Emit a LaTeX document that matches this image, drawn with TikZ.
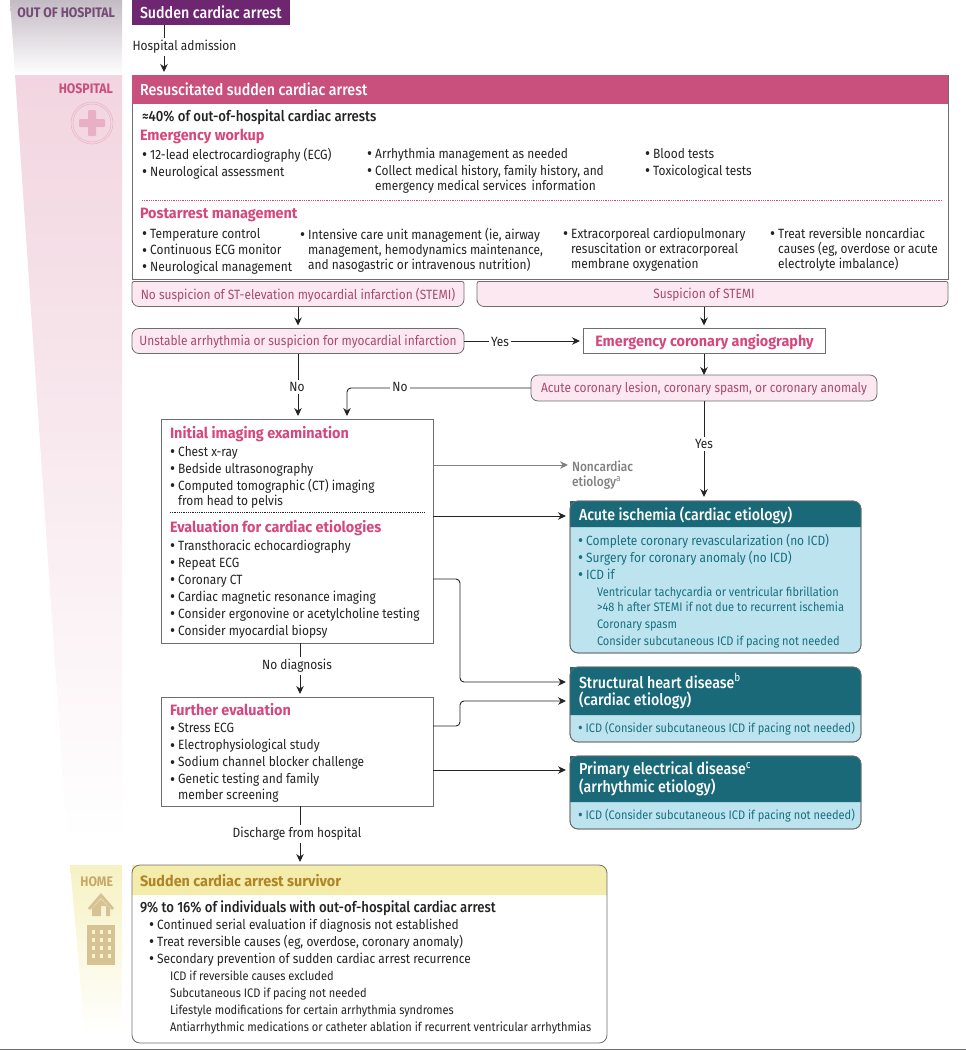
\documentclass[tikz,border=0pt]{standalone}
\usepackage{fontspec}
\setmainfont{Fira Sans}[FakeStretch=0.89]
\newfontfamily\ttlfont{Fira Sans}[FakeStretch=0.96]
\newfontfamily\medfont{Fira Sans Medium}[FakeStretch=0.89]
\usetikzlibrary{calc,arrows.meta}
\definecolor{hdpurple}{RGB}{110, 38, 113}
\definecolor{hdpink}{RGB}{201, 79, 124}
\definecolor{txtpink}{RGB}{214, 72, 125}
\definecolor{softpink}{RGB}{252, 232, 240}
\definecolor{txtrose}{RGB}{168, 74, 112}
\definecolor{hdteal}{RGB}{26, 105, 120}
\definecolor{softteal}{RGB}{188, 227, 238}
\definecolor{txtteal}{RGB}{24, 112, 128}
\definecolor{hdyellow}{RGB}{243, 236, 170}
\definecolor{txtgold}{RGB}{176, 132, 40}
\definecolor{linegray}{RGB}{110, 110, 110}
\definecolor{inkdark}{RGB}{35, 35, 35}
\newcommand{\bl}{\smash{\raisebox{-1.3pt}{\scalebox{1.3}{\textbullet}}}\ }
\newcommand{\ind}{\hphantom{\bl}}
\begin{document}
\begin{tikzpicture}[x=1pt, y=-1pt,
    every node/.style={inner sep=0pt, outer sep=0pt, text=inkdark},
    txt/.style={anchor=north west, align=left, font=\fontsize{13.4}{15.2}\selectfont},
    sub/.style={txt, font=\fontsize{12.4}{15}\selectfont},
    stat/.style={txt, font=\medfont\fontsize{14.8}{16}\selectfont},
    lbl/.style={fill=white, inner sep=2pt, font=\fontsize{13.4}{15.2}\selectfont},
    ttl/.style={anchor=west, font=\ttlfont\fontsize{15}{17}\selectfont\bfseries, text=txtpink},
    whitettl/.style={anchor=west, align=left, font=\medfont\fontsize{16}{17}\selectfont, text=white},
    zone/.style={anchor=east, font=\fontsize{13.8}{14}\selectfont\bfseries},
    blk/.style={draw=linegray, fill=white, anchor=north west, line width=0.9pt},
    pill/.style={draw=linegray, fill=softpink, rounded corners=7pt, align=center, line width=0.8pt,
                 text=txtrose, text height=11pt, text depth=3pt, font=\fontsize{13.4}{15.2}\selectfont},
    frame/.style={draw=linegray, rounded corners=8pt, line width=0.8pt},
    teal/.style={draw=linegray, fill=softteal, rounded corners=8pt, anchor=north west, line width=0.8pt},
    arr/.style={-{Stealth[length=8pt,width=7.5pt]}, line width=0.9pt, color=inkdark},
    elb/.style={arr, rounded corners=4pt}]

    \useasboundingbox (0,0) rectangle (966,1050);

    % side bands
    \shade[top color=hdpurple!25!gray!45, bottom color=white] (10,0) -- (122,0) -- (122,75) -- (15,75) -- cycle;
    \shade[top color=hdpink!24, bottom color=white] (15,75) -- (122,75) -- (122,840) -- (67,840) -- cycle;
    \shade[top color=hdyellow!70, bottom color=white] (70,865) -- (122,865) -- (122,1035) -- (85,1035) -- cycle;

    \node[zone, text=hdpurple!60!gray] (zout)  at (115,13)  {OUT OF HOSPITAL};
    \node[zone, text=hdpink]            (zhosp) at (113,89)  {HOSPITAL};
    \node[zone, text=txtgold!70!white]  (zhome) at (113,882) {HOME};

    % hospital cross
    \draw[hdpink!45, line width=0.5pt] (92,123) circle (21);
    \draw[hdpink!45, line width=0.5pt] (92,123) circle (19);
    \fill[hdpink!45, rounded corners=1pt] (88,110) rectangle (96,136);
    \fill[hdpink!45, rounded corners=1pt] (79,119) rectangle (105,127);

    % home icons
    \fill[txtgold!50!white] (88,908) -- (101,893) -- (114,908) -- (112,910) -- (101,898) -- (90,910) -- cycle;
    \fill[txtgold!50!white] (92,908) -- (101,899) -- (110,908) -- (110,916) -- (106,916) -- (106,906) -- (101,906) -- (101,916) -- (92,916) -- cycle;
    \fill[txtgold!50!white] (87,925) rectangle (115,965);
    \foreach \i in {930,938,946,954} {
        \foreach \j in {92,100,108} {
            \fill[hdyellow!60] (\j,\i) rectangle +(3,4);
        }
    }

    % out of hospital
    \node[draw=none, fill=hdpurple, anchor=north west, minimum width=158pt, minimum height=25pt] (scarrest) at (132,0) {};
    \node[whitettl] (scarresttxt) at (140,12) {Sudden cardiac arrest};

    % resuscitated
    \node[blk, minimum width=816pt, minimum height=204pt] (rsca) at (132,75) {};
    \node[draw=none, fill=hdpink, anchor=north west, minimum width=816pt, minimum height=29pt] (rscahd) at (132,75) {};
    \node[whitettl] (rscatxt) at (140,89) {Resuscitated sudden cardiac arrest};
    \node[stat] (rscastat) at (142,110) {≈40\% of out-of-hospital cardiac arrests};
    \node[ttl] (ework) at (140,136) {Emergency workup};
    \node[txt] (ew1) at (142,148) {\bl 12-lead electrocardiography (ECG)\\[1.8pt]\bl Neurological assessment};
    \node[txt] (ew2) at (367,148) {\bl Arrhythmia management as needed\\[1.8pt]\bl Collect medical history, family history, and\\\ind emergency medical services\, information};
    \node[txt] (ew3) at (645,148) {\bl Blood tests\\[1.8pt]\bl Toxicological tests};
    \draw[txtpink, densely dotted, line width=0.8pt] ([xshift=10pt,yshift=-125pt]rsca.north west) -- ([xshift=-6pt,yshift=-125pt]rsca.north east);
    \node[ttl] (pmgmt) at (140,215) {Postarrest management};
    \node[txt] (pm1) at (142,228) {\bl Temperature control\\[1.6pt]\bl Continuous ECG monitor\\[1.6pt]\bl Neurological management};
    \node[txt] (pm2) at (300,228) {\bl Intensive care unit management (ie, airway\\\ind management, hemodynamics maintenance,\\\ind and nasogastric or intravenous nutrition)};
    \node[txt] (pm3) at (563,228) {\bl Extracorporeal cardiopulmonary\\\ind resuscitation or extracorporeal\\\ind membrane oxygenation};
    \node[txt] (pm4) at (770,228) {\bl Treat reversible noncardiac\\\ind causes (eg, overdose or acute\\\ind electrolyte imbalance)};

    % triage boxes
    \node[minimum width=332pt, minimum height=25pt] (nostemi) at (298,294) {};
    \filldraw[draw=linegray, fill=softpink, line width=0.8pt, rounded corners=2pt] (nostemi.west) -- (nostemi.north west) -- (nostemi.north east) [rounded corners=7pt] -- (nostemi.south east) -- (nostemi.south west) -- cycle;
    \node[txt, anchor=center, text=txtrose] (nostemitxt) at (298,295) {No suspicion of ST-elevation myocardial infarction (STEMI)};
    \node[minimum width=471pt, minimum height=25pt] (stemi) at (712.5,294) {};
    \filldraw[draw=linegray, fill=softpink, line width=0.8pt, rounded corners=2pt] (stemi.west) -- (stemi.north west) -- (stemi.north east) [rounded corners=7pt] -- (stemi.south east) -- (stemi.south west) -- cycle;
    \node[txt, anchor=center, text=txtrose] (stemitxt) at (704,295) {Suspicion of STEMI};
    \node[pill, minimum width=332pt, minimum height=25pt] (unstable) at (298,341) {Unstable arrhythmia or suspicion for myocardial infarction};
    \node[blk, anchor=center, minimum width=242pt, minimum height=25pt] (angio) at (704,341) {};
    \node[ttl, anchor=center] (angiotxt) at (704.5,342) {Emergency coronary angiography};
    \node[pill, minimum width=346pt, minimum height=26pt] (lesion) at (704,388) {Acute coronary lesion, coronary spasm, or coronary anomaly};

    % imaging
    \node[blk, minimum width=272pt, minimum height=224pt] (imaging) at (161,419) {};
    \node[ttl] (imgttl) at (170,434) {Initial imaging examination};
    \node[txt] (imgtxt) at (170,446) {\bl Chest x-ray\\[1.8pt]\bl Bedside ultrasonography\\[1.8pt]\bl Computed tomographic (CT) imaging\\\ind from head to pelvis};
    \draw[inkdark, densely dotted, line width=0.8pt] ([xshift=9pt,yshift=-93pt]imaging.north west) -- ([xshift=-9pt,yshift=-93pt]imaging.north east);
    \node[ttl] (evalttl) at (170,528) {Evaluation for cardiac etiologies};
    \node[txt] (evaltxt) at (170,540) {\bl Transthoracic echocardiography\\[1.8pt]\bl Repeat ECG\\[1.8pt]\bl Coronary CT\\[1.8pt]\bl Cardiac magnetic resonance imaging\\[1.8pt]\bl Consider ergonovine or acetylcholine testing\\[1.8pt]\bl Consider myocardial biopsy};
    \node[blk, minimum width=272pt, minimum height=109pt] (further) at (161,697) {};
    \node[ttl] (furttl) at (170,710) {Further evaluation};
    \node[txt] (furtxt) at (170,723.5) {\bl Stress ECG\\[1.8pt]\bl Electrophysiological study\\[1.8pt]\bl Sodium channel blocker challenge\\[1.8pt]\bl Genetic testing and family\\\ind member screening};

    \node[txt, text=gray, font=\medfont\fontsize{13.4}{15.2}\selectfont] (noncard) at (572,461) {Noncardiac\\etiology$^{\mathrm{a}}$};

    % acute ischemia
    \node[teal, minimum width=291pt, minimum height=152pt] (isch) at (570,501) {};
    \fill[hdteal, rounded corners=8pt] (isch.north west) -- (isch.north east) [sharp corners] -- ([yshift=-26pt]isch.north east) -- ([yshift=-26pt]isch.north west) -- cycle;
    \draw[frame] (isch.north west) rectangle (isch.south east);
    \node[whitettl] (ischttl) at (579,515) {Acute ischemia (cardiac etiology)};
    \node[txt, text=txtteal] (ischtxt) at (578,534) {\bl Complete coronary revascularization (no ICD)\\[1.8pt]\bl Surgery for coronary anomaly (no ICD)\\[1.8pt]\bl ICD if};
    \node[sub, text=txtteal] (ischsub) at (597,587) {Ventricular tachycardia or ventricular fibrillation\\>48 h after STEMI if not due to recurrent ischemia\\[2pt]Coronary spasm\\[2pt]Consider subcutaneous ICD if pacing not needed};

    % structural
    \node[teal, minimum width=291pt, minimum height=75pt] (struct) at (570,667) {};
    \fill[hdteal, rounded corners=8pt] (struct.north west) -- (struct.north east) [sharp corners] -- ([yshift=-48pt]struct.north east) -- ([yshift=-48pt]struct.north west) -- cycle;
    \draw[frame] (struct.north west) rectangle (struct.south east);
    \node[whitettl] (structttl) at (579,691) {Structural heart disease$^{\mathrm{b}}$\\(cardiac etiology)};
    \node[sub, text=txtteal] (structtxt) at (578,722) {\bl ICD (Consider subcutaneous ICD if pacing not needed)};

    % primary electrical
    \node[teal, minimum width=291pt, minimum height=73pt] (prim) at (570,756) {};
    \fill[hdteal, rounded corners=8pt] (prim.north west) -- (prim.north east) [sharp corners] -- ([yshift=-46pt]prim.north east) -- ([yshift=-46pt]prim.north west) -- cycle;
    \draw[frame] (prim.north west) rectangle (prim.south east);
    \node[whitettl] (primttl) at (579,779) {Primary electrical disease$^{\mathrm{c}}$\\(arrhythmic etiology)};
    \node[sub, text=txtteal] (primtxt) at (578,809) {\bl ICD (Consider subcutaneous ICD if pacing not needed)};

    % survivor
    \node[minimum width=475pt, minimum height=178pt, anchor=north west] (surv) at (132,865) {};
    \fill[hdyellow, rounded corners=8pt] (surv.north west) -- (surv.north east) [sharp corners] -- ([yshift=-30pt]surv.north east) -- ([yshift=-30pt]surv.north west) -- cycle;
    \draw[frame] (surv.north west) rectangle (surv.south east);
    \node[ttl, text=txtgold] (survttl) at (140,881) {Sudden cardiac arrest survivor};
    \node[stat] (survstat) at (140,901) {9\% to 16\% of individuals with out-of-hospital cardiac arrest};
    \node[txt] (survtxt) at (149,919) {\bl Continued serial evaluation if diagnosis not established\\[1.8pt]\bl Treat reversible causes (eg, overdose, coronary anomaly)\\[1.8pt]\bl Secondary prevention of sudden cardiac arrest recurrence};
    \node[sub] (survsub) at (170,971) {ICD if reversible causes excluded\\[1.8pt]Subcutaneous ICD if pacing not needed\\[1.8pt]Lifestyle modifications for certain arrhythmia syndromes\\[1.8pt]Antiarrhythmic medications or catheter ablation if recurrent ventricular arrhythmias};

    % connectors
    \draw[arr] ([xshift=32pt]scarrest.south west) -- ([xshift=32pt,yshift=3pt]rsca.north west);
    \node[lbl] (lbladm) at (184.5,47) {Hospital admission};
    \draw[arr] (nostemi.south) -- ([yshift=3pt]unstable.north);
    \draw[arr] ([xshift=-8.5pt]stemi.south) -- ([yshift=3pt]angio.north);
    \draw[arr] (unstable.east) -- ([xshift=-3pt]angio.west);
    \node[lbl] (lblyes1) at (500,342) {Yes};
    \draw[arr] (angio.south) -- (lesion.north);
    \draw[arr] (unstable.south) -- ([xshift=137pt,yshift=3pt]imaging.north west);
    \node[lbl] (lblno1) at (297,387) {No};
    \draw[elb] (lesion.west) -| ([xshift=186pt,yshift=3pt]imaging.north west);
    \node[lbl] (lblno2) at (400,387) {No};
    \draw[arr] (lesion.south) -- ([xshift=134pt,yshift=4pt]isch.north west);
    \node[lbl] (lblyes2) at (704,444) {Yes};
    \draw[arr, gray] ([yshift=-46pt]imaging.north east) -- ([xshift=-4pt,yshift=-4pt]noncard.north west);
    \draw[arr] ([yshift=-97pt]imaging.north east) -- ([xshift=-4pt,yshift=-15pt]isch.north west);
    \draw[elb] ([yshift=-160pt]imaging.north east) -- ++(27,0) |- ([xshift=-4pt,yshift=-15pt]struct.north west);
    \draw[arr] ([xshift=139pt]imaging.south west) -- ([xshift=139pt,yshift=3pt]further.north west);
    \node[lbl] (lbldiag) at (297,666) {No diagnosis};
    \draw[elb] ([yshift=-29pt]further.north east) -- ++(27,0) |- ([xshift=-4pt,yshift=-34pt]struct.north west);
    \draw[arr] ([yshift=-73pt]further.north east) -- ([xshift=-4pt,yshift=-14pt]prim.north west);
    \draw[arr] ([xshift=139pt]further.south west) -- ([xshift=168pt,yshift=3pt]surv.north west);
    \node[lbl] (lbldisch) at (297,834) {Discharge from hospital};

    % rule along the foot
    \draw[linegray, line width=0.8pt] (0,1049) -- (966,1049);
\end{tikzpicture}
\end{document}
